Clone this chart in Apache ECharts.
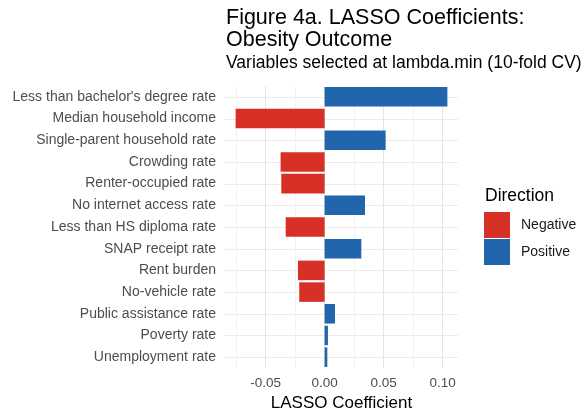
<!DOCTYPE html>
<html>
<head>
<meta charset="utf-8">
<script src="https://cdn.jsdelivr.net/npm/echarts@6/dist/echarts.min.js"></script>
<style>
  html, body { margin: 0; padding: 0; background: #fff; }
  #chart { width: 588px; height: 415px; }
</style>
</head>
<body>
<div id="chart"></div>
<script>
// Variables kept by the cross-validated LASSO, top to bottom
const variables = [
  "Less than bachelor's degree rate",
  "Median household income",
  "Single-parent household rate",
  "Crowding rate",
  "Renter-occupied rate",
  "No internet access rate",
  "Less than HS diploma rate",
  "SNAP receipt rate",
  "Rent burden",
  "No-vehicle rate",
  "Public assistance rate",
  "Poverty rate",
  "Unemployment rate"
];
// Coefficient for each variable (same order)
const coefficients = [
  0.104, -0.0754, 0.0517, -0.0373, -0.0367, 0.0342, -0.0330,
  0.0311, -0.0226, -0.0215, 0.0088, 0.0028, 0.0023
];
const directions = ["Negative", "Positive"];
const xTickLabels = [-0.05, 0.00, 0.05, 0.10];
const xGridValues = [-0.075, -0.05, -0.025, 0, 0.025, 0.05, 0.075, 0.10];

const colors = { Negative: '#d73027', Positive: '#2166ac' };

const negData = coefficients.map(v => (v < 0 ? v : null));
const posData = coefficients.map(v => (v >= 0 ? v : null));

const chart = echarts.init(document.getElementById('chart'), null, { renderer: 'canvas' });

const gridLeft = 225, gridTop = 86, gridW = 233, gridH = 282;
const font = 'Liberation Sans, Arial, sans-serif';

chart.setOption({
  backgroundColor: '#ffffff',
  animation: false,
  textStyle: { fontFamily: font },
  title: [
    {
      text: 'Figure 4a. LASSO Coefficients:\nObesity Outcome',
      left: 221, top: 2,
      textStyle: { fontSize: 21.5, fontWeight: 'normal', color: '#000', lineHeight: 22, fontFamily: font }
    },
    {
      text: 'Variables selected at lambda.min (10-fold CV)',
      left: 221, top: 49,
      textStyle: { fontSize: 17.5, fontWeight: 'normal', color: '#000', fontFamily: font }
    },
    {
      text: 'Direction',
      left: 480, top: 182,
      textStyle: { fontSize: 17.5, fontWeight: 'normal', color: '#000', fontFamily: font }
    }
  ],
  legend: {
    data: directions,
    orient: 'vertical',
    left: 484, top: 212,
    itemWidth: 26, itemHeight: 26, itemGap: 1,
    icon: 'rect',
    textStyle: { fontSize: 14, color: '#1a1a1a', padding: [0, 0, 0, 6] },
    selectedMode: false,
    padding: 0
  },
  grid: {
    left: gridLeft, top: gridTop, width: gridW, height: gridH,
    containLabel: false, outerBoundsMode: 'none'
  },
  xAxis: {
    type: 'value',
    min: -0.0844, max: 0.113,
    name: 'LASSO Coefficient',
    nameLocation: 'middle',
    nameGap: 27,
    nameTextStyle: { fontSize: 17, color: '#000' },
    axisLine: { show: false },
    axisTick: { show: false, customValues: xGridValues },
    axisLabel: {
      customValues: xTickLabels,
      formatter: v => v.toFixed(2),
      fontSize: 13.5, color: '#4d4d4d', margin: 8
    },
    splitLine: { show: true, lineStyle: { color: ['#f2f2f2', '#e4e4e4'], width: 1 } }
  },
  yAxis: {
    type: 'category',
    data: variables,
    inverse: true,
    axisLine: { show: false },
    axisTick: { show: false },
    axisLabel: { fontSize: 14, color: '#4d4d4d', margin: 9 },
    splitLine: { show: false }
  },
  series: [
    {
      name: 'Negative',
      type: 'bar',
      data: negData,
      barWidth: '90%',
      barGap: '-100%',
      itemStyle: { color: colors.Negative }
    },
    {
      name: 'Positive',
      type: 'bar',
      data: posData,
      barWidth: '90%',
      barGap: '-100%',
      itemStyle: { color: colors.Positive },
      z: 3
    }
  ],
  graphic: []
});

// Horizontal grid lines through each category centre
function drawRowLines() {
  const lines = variables.map((name) => {
    const y = Math.round(chart.convertToPixel({ yAxisIndex: 0 }, name)) + 0.5;
    return {
      type: 'line',
      shape: { x1: gridLeft, y1: y, x2: gridLeft + gridW, y2: y },
      style: { stroke: '#ebebeb', lineWidth: 1 },
      z: 0, silent: true
    };
  });
  chart.setOption({ graphic: lines });
}
drawRowLines();
</script>
</body>
</html>
